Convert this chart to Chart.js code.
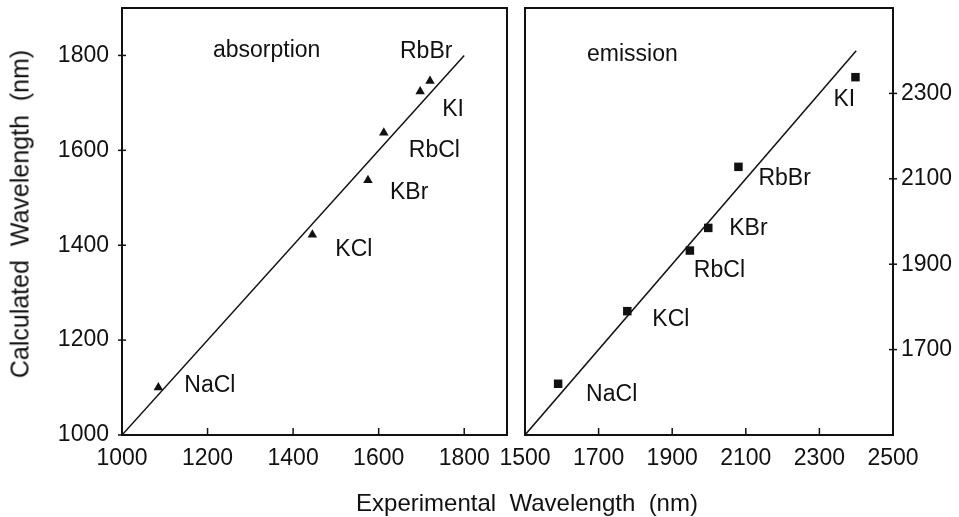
<!DOCTYPE html>
<html>
<head>
<meta charset="utf-8">
<script src="https://cdn.jsdelivr.net/npm/chart.js@4.4.0/dist/chart.umd.min.js"></script>
<style>
  body { margin: 0; background: #fff; width: 959px; height: 517px; position: relative; overflow: hidden;
         font-family: "Liberation Sans", Arial, sans-serif; }
  #absChart { position: absolute; left: 0; top: 0; width: 515px; height: 517px; }
  #emChart { position: absolute; left: 490px; top: 0; width: 469px; height: 517px; }
  .ttl { position: absolute; color: #111; white-space: pre; }
  #xTitle { font-size: 24px; left: 527px; top: 503px; transform: translate(-50%, -50%); }
  #yTitle { font-size: 25px; left: 20px; top: 214px; transform: translate(-50%, -50%) rotate(-90deg); }
</style>
</head>
<body>
<canvas id="absChart" width="515" height="517"></canvas>
<canvas id="emChart" width="469" height="517"></canvas>
<div class="ttl" id="xTitle">Experimental  Wavelength  (nm)</div>
<div class="ttl" id="yTitle">Calculated  Wavelength  (nm)</div>
<script>
// salts, same order in both panels
const salts = ['NaCl', 'KCl', 'KBr', 'RbCl', 'KI', 'RbBr'];

// absorption (nm)
const absExp  = [1085, 1445, 1575, 1612, 1697, 1720];
const absCalc = [1100, 1422, 1537, 1637, 1724, 1746];

// emission (nm)
const emExp  = [1590, 1778, 1998, 1948, 2398, 2080];
const emCalc = [1620, 1790, 1985, 1932, 2338, 2128];

// y = x reference lines
const absLine = [1000, 1800];
const emLine  = [1500, 2400];

// tick labels
const absXTicks = [1000, 1200, 1400, 1600, 1800];
const absYTicks = [1000, 1200, 1400, 1600, 1800];
const emXTicks  = [1500, 1700, 1900, 2100, 2300, 2500];
const emYTicks  = [1700, 1900, 2100, 2300];

const ink = '#111';
const fontFam = '"Liberation Sans", Arial, sans-serif';

// box around plot, inward ticks and text labels
const framePlugin = {
  id: 'frame',
  afterDraw(chart, args, opts) {
    const { ctx, chartArea: a, scales } = chart;
    ctx.save();
    ctx.strokeStyle = ink;
    ctx.lineWidth = 2;
    ctx.strokeRect(a.left, a.top, a.width, a.height);

    ctx.lineWidth = 1.5;
    scales.x.ticks.forEach(t => {
      const px = scales.x.getPixelForValue(t.value);
      ctx.beginPath(); ctx.moveTo(px, a.bottom); ctx.lineTo(px, a.bottom - 7); ctx.stroke();
    });
    scales.y.ticks.forEach(t => {
      const py = scales.y.getPixelForValue(t.value);
      const x0 = opts.side === 'left' ? a.left : a.right;
      ctx.beginPath(); ctx.moveTo(x0 - 4, py); ctx.lineTo(x0 + 4, py); ctx.stroke();
    });

    ctx.fillStyle = ink;
    ctx.font = '23px ' + fontFam;
    ctx.textBaseline = 'middle';
    ctx.textAlign = 'left';
    const pts = chart.getDatasetMeta(0).data;
    salts.forEach((name, i) => {
      const off = opts.offsets[name];
      ctx.fillText(name, pts[i].x + off[0], pts[i].y + off[1]);
    });
    ctx.fillText(opts.panel, a.left + opts.panelDx, opts.panelY);
    ctx.restore();
  }
};

function noPad(s) {
  s.paddingTop = 0; s.paddingBottom = 0; s.paddingLeft = 0; s.paddingRight = 0;
}

function makeScales(xMin, xMax, xTicks, yMin, yMax, yTicks, ySide, yWidth) {
  return {
    x: {
      type: 'linear', min: xMin, max: xMax,
      afterBuildTicks: s => { s.ticks = xTicks.map(v => ({ value: v })); },
      afterFit: s => { s.height = 82; noPad(s); },
      grid: { display: false, drawTicks: false },
      border: { display: false },
      ticks: { padding: 10, color: ink, font: { size: 23, family: fontFam }, maxRotation: 0, autoSkip: false,
               callback: v => String(v) }
    },
    y: {
      type: 'linear', min: yMin, max: yMax, position: ySide,
      afterBuildTicks: s => { s.ticks = yTicks.map(v => ({ value: v })); },
      afterFit: s => { s.width = yWidth; noPad(s); },
      grid: { display: false, drawTicks: false },
      border: { display: false },
      ticks: { padding: ySide === 'left' ? 13 : 8, color: ink, font: { size: 23, family: fontFam }, autoSkip: false,
               callback: v => String(v) }
    }
  };
}

new Chart(document.getElementById('absChart'), {
  type: 'scatter',
  data: {
    datasets: [{
      data: absExp.map((x, i) => ({ x: x, y: absCalc[i] })),
      pointStyle: 'triangle', pointRadius: 5.5,
      backgroundColor: ink, borderColor: ink, borderWidth: 0
    }, {
      data: absLine.map(v => ({ x: v, y: v })),
      showLine: true, pointRadius: 0, borderColor: ink, borderWidth: 1.5
    }]
  },
  options: {
    responsive: false, animation: false,
    layout: { padding: { top: 8, right: 8, left: 0, bottom: 0 } },
    plugins: {
      legend: { display: false }, tooltip: { enabled: false },
      frame: {
        side: 'left', panel: 'absorption', panelDx: 91, panelY: 51,
        offsets: { NaCl: [26, -2], KCl: [23, 15], KBr: [22, 12], RbCl: [25, 18], KI: [22, 18], RbBr: [-30, -29] }
      }
    },
    scales: makeScales(1000, 1900, absXTicks, 1000, 1900, absYTicks, 'left', 122)
  },
  plugins: [framePlugin]
});

new Chart(document.getElementById('emChart'), {
  type: 'scatter',
  data: {
    datasets: [{
      data: emExp.map((x, i) => ({ x: x, y: emCalc[i] })),
      pointStyle: 'rect', pointRadius: 6,
      backgroundColor: ink, borderColor: ink, borderWidth: 0
    }, {
      data: emLine.map(v => ({ x: v, y: v })),
      showLine: true, pointRadius: 0, borderColor: ink, borderWidth: 1.5
    }]
  },
  options: {
    responsive: false, animation: false,
    layout: { padding: { top: 8, right: 0, left: 35, bottom: 0 } },
    plugins: {
      legend: { display: false }, tooltip: { enabled: false },
      frame: {
        side: 'right', panel: 'emission', panelDx: 62, panelY: 55,
        offsets: { NaCl: [28, 11], KCl: [25, 8], KBr: [21, 1], RbCl: [4, 20], KI: [-22, 22], RbBr: [20, 12] }
      }
    },
    scales: makeScales(1500, 2500, emXTicks, 1500, 2500, emYTicks, 'right', 66)
  },
  plugins: [framePlugin]
});
</script>
</body>
</html>
